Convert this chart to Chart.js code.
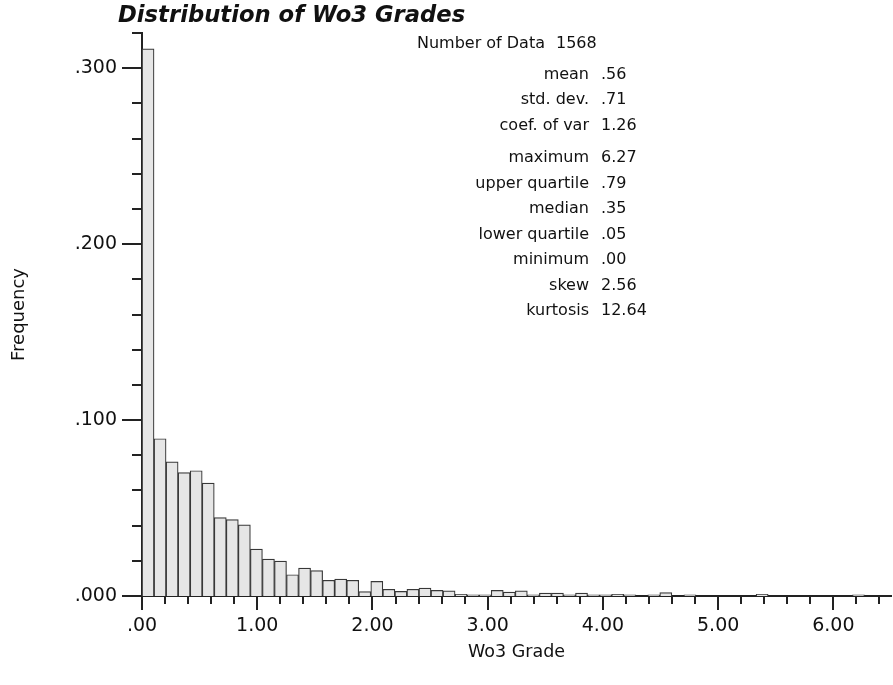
<!DOCTYPE html>
<html>
<head>
<meta charset="utf-8">
<script src="https://cdn.jsdelivr.net/npm/chart.js@4"></script>
<style>
  body { margin: 0; background: #fff; }
  #wrap { width: 893px; height: 685px; position: relative; }
</style>
</head>
<body>
<div id="wrap"><canvas id="myChart"></canvas></div>
<script>
// histogram of Wo3 grades: 60 classes between the min (.00) and max (6.27)
var nClasses = 60;
var gradeMin = 0.0;
var gradeMax = 6.27;
var freq = [
  0.3110, 0.0894, 0.0762, 0.0701, 0.0712, 0.0642, 0.0446, 0.0434, 0.0404, 0.0267,
  0.0210, 0.0198, 0.0121, 0.0159, 0.0144, 0.0089, 0.0096, 0.0089, 0.0025, 0.0083,
  0.0038, 0.0026, 0.0038, 0.0045, 0.0032, 0.0029, 0.0010, 0.0006, 0.0006, 0.0032,
  0.0022, 0.0029, 0.0006, 0.0016, 0.0016, 0.0006, 0.0016, 0.0006, 0.0006, 0.0010,
  0.0006, 0.0000, 0.0006, 0.0019, 0.0000, 0.0006, 0.0000, 0.0000, 0.0000, 0.0000,
  0.0000, 0.0010, 0.0000, 0.0000, 0.0000, 0.0000, 0.0000, 0.0000, 0.0000, 0.0006
];

var statNames = ['mean', 'std. dev.', 'coef. of var', 'maximum', 'upper quartile',
                 'median', 'lower quartile', 'minimum', 'skew', 'kurtosis'];
var statValues = ['.56', '.71', '1.26', '6.27', '.79', '.35', '.05', '.00', '2.56', '12.64'];
var nData = '1568';

var binWidth = (gradeMax - gradeMin) / nClasses;
var points = freq.map(function (f, i) {
  return { x: gradeMin + (i + 0.5) * binWidth, y: f };
});

Chart.defaults.font.family = '"DejaVu Sans", sans-serif';
Chart.defaults.color = '#111';

function isMult(v, step) {
  var r = v / step;
  return Math.abs(r - Math.round(r)) < 1e-6;
}

// tick marks (long on labelled values) + title + statistics block
var decorations = {
  id: 'decorations',
  afterDraw: function (chart) {
    var c = chart.ctx, xs = chart.scales.x, ys = chart.scales.y, a = chart.chartArea;
    c.save();
    c.strokeStyle = '#222';
    c.lineWidth = 2;
    xs.ticks.forEach(function (t) {
      if (!isMult(t.value, 0.2)) return;
      var px = Math.round(xs.getPixelForValue(t.value));
      var len = isMult(t.value, 1) ? 14 : 8;
      c.beginPath(); c.moveTo(px, a.bottom); c.lineTo(px, a.bottom + len); c.stroke();
    });
    ys.ticks.forEach(function (t) {
      var py = Math.round(ys.getPixelForValue(t.value));
      var len = isMult(t.value, 0.1) ? 20 : 10;
      c.beginPath(); c.moveTo(a.left, py); c.lineTo(a.left - len, py); c.stroke();
    });

    c.fillStyle = '#111';
    c.textBaseline = 'alphabetic';
    c.textAlign = 'left';
    c.font = 'italic bold 22.7px "DejaVu Sans"';
    c.fillText('Distribution of Wo3 Grades', a.left - 24, 22);

    c.font = '16px "DejaVu Sans"';
    c.textBaseline = 'middle';
    c.textAlign = 'right';
    c.fillText('Number of Data', 545, 44);
    c.textAlign = 'left';
    c.fillText(nData, 556, 44);
    var rowsY = [75, 100, 126, 158, 184, 209, 235, 260, 286, 311];
    statNames.forEach(function (s, i) {
      c.textAlign = 'right';
      c.fillText(s, 589, rowsY[i]);
      c.textAlign = 'left';
      c.fillText(statValues[i], 601, rowsY[i]);
    });
    c.restore();
  }
};

var ctx = document.getElementById('myChart');
var myChart = new Chart(ctx, {
  type: 'bar',
  data: {
    datasets: [{
      label: 'Frequency',
      data: points,
      backgroundColor: '#e6e6e6',
      borderColor: '#383838',
      borderWidth: 1.2,
      barPercentage: 1,
      categoryPercentage: 1
    }]
  },
  options: {
    responsive: true,
    maintainAspectRatio: false,
    animation: false,
    layout: { padding: { top: 33, right: 2, left: 0, bottom: 0 } },
    plugins: {
      legend: { display: false },
      title: { display: false },
      tooltip: { enabled: false }
    },
    scales: {
      x: {
        type: 'linear',
        min: 0,
        max: 6.5,
        offset: false,
        grid: { display: false, drawTicks: false, offset: false },
        border: { display: true, color: '#222', width: 2 },
        ticks: {
          stepSize: 0.2,
          includeBounds: false,
          autoSkip: false,
          maxRotation: 0,
          padding: 19,
          font: { size: 19 },
          callback: function (v) {
            if (!isMult(v, 1)) return '';
            return v === 0 ? '.00' : v.toFixed(2);
          }
        },
        title: {
          display: true,
          text: 'Wo3 Grade',
          font: { size: 17.5 },
          padding: { top: 0, bottom: 22 }
        },
        afterFit: function (s) {
          s.height = 89;
          s.paddingLeft = 0;
          s.paddingRight = 0;
        }
      },
      y: {
        min: 0,
        max: 0.32,
        grid: { display: false, drawTicks: false },
        border: { display: true, color: '#222', width: 2 },
        ticks: {
          stepSize: 0.02,
          autoSkip: false,
          padding: 25,
          font: { size: 19 },
          callback: function (v) {
            if (!isMult(v, 0.1)) return '';
            return v.toFixed(3).replace(/^0/, '');
          }
        },
        title: {
          display: true,
          text: 'Frequency',
          font: { size: 18 },
          padding: { top: 9, bottom: 0 }
        },
        afterFit: function (s) {
          s.width = 142;
          s.paddingTop = 0;
          s.paddingBottom = 0;
        }
      }
    }
  },
  plugins: [decorations]
});
</script>
</body>
</html>
